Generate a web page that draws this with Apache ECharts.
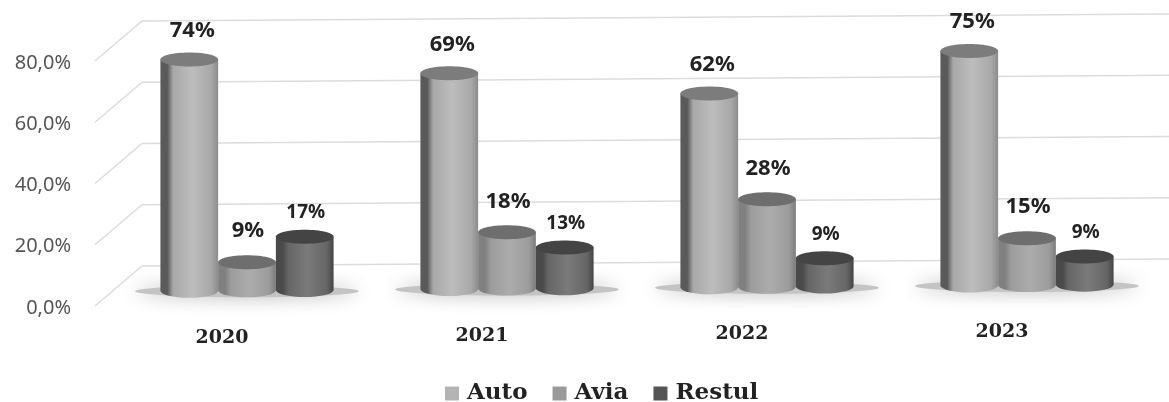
<!DOCTYPE html>
<html>
<head>
<meta charset="utf-8">
<style>html,body{margin:0;padding:0;background:#fff}</style>
<script src="https://cdn.jsdelivr.net/npm/echarts@6/dist/echarts.min.js"></script>
</head>
<body>
<div id="main" style="width:1169px;height:402px"></div>
<script>
var years = ['2020', '2021', '2022', '2023'];
var auto = [74, 69, 62, 75];
var avia = [9, 18, 28, 15];
var restul = [17, 13, 9, 9];
var ticks = [0, 20, 40, 60, 80];

// the scan is a little crooked, everything climbs to the right
function tilt(x) { return -(x - 150) * 0.0068; }

var chart = echarts.init(document.getElementById('main'));

function cylinder(values, idx, c) {
	return {
		name: c.name,
		type: 'custom',
		xAxisIndex: 1,
		yAxisIndex: 1,
		z: 5,
		itemStyle: { color: c.legend },
		data: values.map(function (v, i) { return [i, v]; }),
		renderItem: function (params, api) {
			var top = api.coord([api.value(0), api.value(1)]);
			var base = api.coord([api.value(0), 0]);
			var w = api.size([1, 0])[0] * 0.222;
			var x = top[0] + (idx - 1) * w;
			var t = tilt(x);
			var y0 = top[1] + t, y1 = base[1] + t, rx = w / 2, ry = 7;
			var d = 'M' + (x - rx) + ' ' + y0 + 'L' + (x - rx) + ' ' + y1 +
				'A' + rx + ' ' + ry + ' 0 0 0 ' + (x + rx) + ' ' + y1 +
				'L' + (x + rx) + ' ' + y0 + 'Z';
			return {
				type: 'group',
				children: [{
					type: 'path',
					shape: { pathData: d },
					style: {
						fill: new echarts.graphic.LinearGradient(0, 0, 1, 0, [
							{ offset: 0, color: c.edge },
							{ offset: 0.12, color: c.edge },
							{ offset: 0.22, color: c.mid },
							{ offset: 0.55, color: c.light },
							{ offset: 0.88, color: c.mid },
							{ offset: 1, color: c.right }
						])
					}
				}, {
					type: 'ellipse',
					shape: { cx: x, cy: y0, rx: rx, ry: ry },
					style: { fill: c.top }
				}, {
					type: 'text',
					style: {
						text: api.value(1) + '%',
						x: x + c.dx,
						y: y0 + c.dy,
						align: 'center',
						verticalAlign: 'middle',
						fill: '#222',
						font: 'bold ' + c.size + 'px "Noto Sans"'
					}
				}]
			};
		}
	};
}

option = {
	animation: false,
	backgroundColor: '#fff',
	legend: {
		left: 445,
		top: 382,
		padding: 0,
		itemWidth: 14,
		itemHeight: 14,
		itemGap: 25,
		icon: 'rect',
		selectedMode: false,
		data: ['Auto', 'Avia', 'Restul'],
		textStyle: { color: '#222', fontFamily: 'DejaVu Serif', fontWeight: 'bold', fontSize: 23, padding: [0, 0, 0, 3] }
	},
	grid: [
		{ left: 92, width: 1040, top: 63, height: 245 },
		{ left: 117, width: 1040, top: 41, height: 250 }
	],
	xAxis: [{
		type: 'category',
		gridIndex: 0,
		// drop each year a bit more going left, same crooked scan
		data: years.map(function (y, i) {
			return { value: y, textStyle: { padding: [(3 - i) * 2, 0, 0, 0] } };
		}),
		axisLine: { show: false },
		axisTick: { show: false },
		axisLabel: { margin: 15, color: '#222', fontFamily: 'DejaVu Serif', fontWeight: 'bold', fontSize: 19 }
	}, {
		type: 'category',
		gridIndex: 1,
		data: years,
		show: false
	}],
	yAxis: [{
		type: 'value',
		gridIndex: 0,
		min: 0,
		max: 80,
		interval: 20,
		axisLine: { show: false },
		axisTick: { show: false },
		splitLine: { show: false },
		axisLabel: {
			margin: 21,
			color: '#555',
			fontFamily: 'Noto Sans',
			fontSize: 20,
			formatter: function (v) { return v.toFixed(1).replace('.', ',') + '%'; }
		}
	}, {
		type: 'value',
		gridIndex: 1,
		min: 0,
		max: 80,
		show: false
	}],
	series: [{
		// side wall and back wall lines
		type: 'custom',
		xAxisIndex: 0,
		yAxisIndex: 0,
		silent: true,
		z: 1,
		data: ticks.map(function (t) { return [0, t]; }),
		renderItem: function (params, api) {
			var y = api.coord([0, api.value(1)])[1] - 2;
			var left = params.coordSys.x + 3;
			var style = { stroke: '#dcdcdc', lineWidth: 1.5, fill: null };
			return {
				type: 'polyline',
				shape: { points: [[left, y], [left + 47, y - 40], [api.getWidth(), y - 40 - 7]] },
				style: style
			};
		}
	}, {
		// floor shadow under each group
		type: 'custom',
		xAxisIndex: 1,
		yAxisIndex: 1,
		silent: true,
		z: 2,
		data: years.map(function (y, i) { return [i, 0]; }),
		renderItem: function (params, api) {
			var p = api.coord([api.value(0), 0]);
			return {
				type: 'ellipse',
				shape: { cx: p[0], cy: p[1] + 1 + tilt(p[0]), rx: 112, ry: 6 },
				style: { fill: '#c4c4c4', shadowBlur: 18, shadowColor: '#b4b4b4' }
			};
		}
	},
		cylinder(auto, 0, { name: 'Auto', legend: '#b4b4b4', edge: '#5a5a5a', mid: '#a8a8a8', light: '#bdbdbd', right: '#8c8c8c', top: '#7c7c7c', dx: 3, dy: -29, size: 22 }),
		cylinder(avia, 1, { name: 'Avia', legend: '#9a9a9a', edge: '#808080', mid: '#9c9c9c', light: '#acacac', right: '#7c7c7c', top: '#6e6e6e', dx: 1, dy: -31, size: 22 }),
		cylinder(restul, 2, { name: 'Restul', legend: '#555555', edge: '#4a4a4a', mid: '#666666', light: '#7a7a7a', right: '#444444', top: '#444444', dx: 1, dy: -24, size: 19 })
	]
};
chart.setOption(option);
</script>
</body>
</html>
